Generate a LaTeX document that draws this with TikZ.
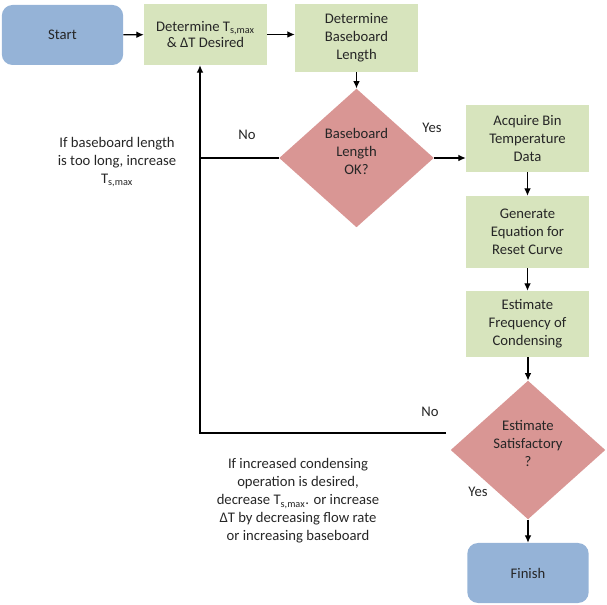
\documentclass[tikz,border=0pt]{standalone}
\usepackage{fontspec}
\setmainfont{Carlito}
\usetikzlibrary{shapes.geometric,arrows.meta}
\definecolor{termblue}{HTML}{95B3D7}
\definecolor{procgreen}{HTML}{D7E4BD}
\definecolor{decred}{HTML}{D99694}
\definecolor{txt}{HTML}{262626}
\newcommand{\uptext}[1]{\raisebox{3.5pt}[\height][\depth]{\begin{tabular}{@{}c@{}}#1\end{tabular}}}
\begin{document}
\begin{tikzpicture}[x=0.75pt,y=-0.75pt,
  font=\fontsize{11pt}{13.5pt}\selectfont, text=txt,
  terminal/.style={rectangle, rounded corners=8pt, fill=termblue, align=center,
     minimum width=91pt, minimum height=45pt, inner sep=0pt},
  process/.style={rectangle, fill=procgreen, align=center, inner sep=0pt},
  decision/.style={diamond, fill=decred, align=center, inner sep=0pt,
     minimum width=116pt, minimum height=104pt},
  conn/.style={draw=black, line width=0.8pt, -{Latex[length=5.5pt,width=5pt]}},
  plain/.style={draw=black, line width=0.8pt},
  lbl/.style={align=center, inner sep=0pt}]
\useasboundingbox (0,0) rectangle (607,605);
\node[terminal] (start) at (62.5,35) {Start};
\node[process, minimum width=92.25pt, minimum height=45.75pt] (b1) at (205.5,34.5)
  {Determine T\textsubscript{s,max}\\[-1pt] \&\ ΔT Desired};
\node[process, minimum width=92.25pt, minimum height=51pt] (b2) at (356.5,38)
  {Determine\\Baseboard\\Length};
\node[decision] (d1) at (356.5,158) {\uptext{Baseboard\\Length\\OK?}};
\node[process, minimum width=92.25pt, minimum height=50.25pt] (b3) at (527.5,138.5)
  {Acquire Bin\\Temperature\\Data};
\node[process, minimum width=92.25pt, minimum height=54pt] (b4) at (527.5,232)
  {Generate\\Equation for\\Reset Curve};
\node[process, minimum width=92.25pt, minimum height=49.5pt] (b5) at (527.5,324)
  {Estimate\\Frequency of\\Condensing};
\node[decision] (d2) at (528,450) {\uptext{Estimate\\Satisfactory\\?}};
\node[terminal] (fin) at (528,573) {Finish};

\node[lbl] (nolbl1) at (247,135) {No};
\node[lbl] (yeslbl1) at (432,128) {Yes};
\node[lbl] (nolbl2) at (430,412) {No};
\node[lbl] (yeslbl2) at (478,492) {Yes};
\node[lbl] (note1) at (117,162) {If baseboard length\\is too long, increase\\T\textsubscript{s,max}};
\node[lbl] (note2) at (298,501) {If increased condensing\\operation is desired,\\decrease T\textsubscript{s,max}. or increase\\ΔT by decreasing flow rate\\or increasing baseboard};

\coordinate (c1) at (200,433);
\coordinate (c2) at (446,433);

\draw[conn] (start) -- (b1);
\draw[conn] (b1.east) -- (b1.east -| b2.west);
\draw[conn] (b2) -- (d1);
\draw[conn] (d1.east) -- (d1.east -| b3.west);
\draw[conn] (b3) -- (b4);
\draw[conn] (b4) -- (b5);
\draw[conn] (b5.south -| d2.north) -- (d2.north);
\draw[conn] (d2) -- (fin);
\draw[plain] (d1.west) -- (d1.west -| c1);
\draw[conn] (c2) -- (c1) -- (c1 |- b1.south);
\end{tikzpicture}
\end{document}
